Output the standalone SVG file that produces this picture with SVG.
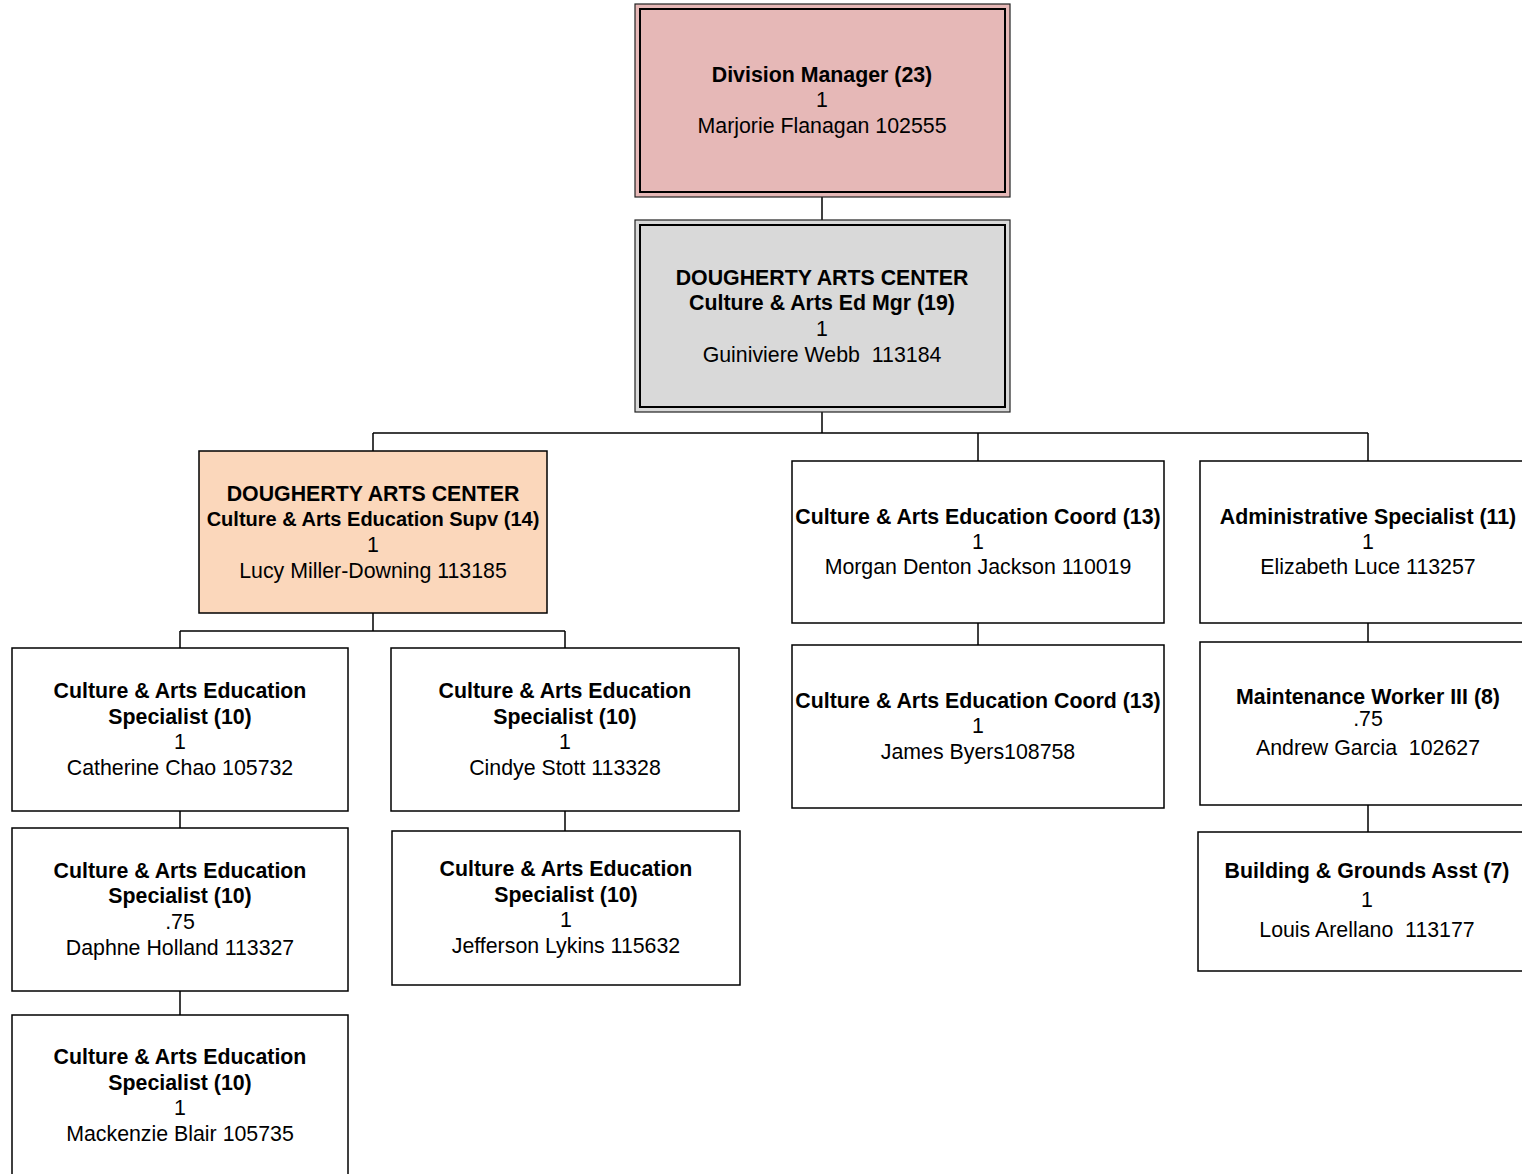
<svg xmlns="http://www.w3.org/2000/svg" width="1522" height="1174" viewBox="0 0 1522 1174">
<style>
text{font-family:"Liberation Sans",Arial,sans-serif;font-size:21.33px;fill:#000;text-anchor:middle;white-space:pre}
.b{font-weight:bold}
.box{fill:#fff;stroke:#000;stroke-width:1.5}
.outer{stroke:#222;stroke-width:1.2}
.inner{fill:none;stroke:#000;stroke-width:2}
.conn{fill:none;stroke:#000;stroke-width:1.5}
</style>
<rect width="1522" height="1174" fill="#fff"/>
<g id="connectors">
<path class="conn" d="M822 197V220"/>
<path class="conn" d="M822 412V433M373 433H1368M373 433V451M978 433V461M1368 433V461"/>
<path class="conn" d="M373 613V631M180 631H565M180 631V648M565 631V648"/>
<path class="conn" d="M180 811V828M180 991V1015"/>
<path class="conn" d="M565 811V831"/>
<path class="conn" d="M978 623V645"/>
<path class="conn" d="M1368 623V642M1368 805V832"/>
</g>
<g id="division-manager">
<rect class="outer" x="635" y="4" width="375" height="193" fill="#e6b8b7"/>
<rect class="inner" x="640" y="9" width="365" height="183"/>
<text class="b" x="822" y="82">Division Manager (23)</text>
<text x="822" y="107">1</text>
<text x="822" y="133">Marjorie Flanagan 102555</text>
</g>
<g id="arts-ed-mgr">
<rect class="outer" x="635" y="220" width="375" height="192" fill="#d9d9d9"/>
<rect class="inner" x="640" y="225" width="365" height="182"/>
<text class="b" x="822" y="285">DOUGHERTY ARTS CENTER</text>
<text class="b" x="822" y="310">Culture &amp; Arts Ed Mgr (19)</text>
<text x="822" y="336">1</text>
<text x="822" y="362" xml:space="preserve">Guiniviere Webb  113184</text>
</g>
<g id="arts-ed-supv">
<rect class="box" x="199" y="451" width="348" height="162" style="fill:#fbd7bb"/>
<text class="b" x="373" y="501">DOUGHERTY ARTS CENTER</text>
<text class="b" x="373" y="526" style="font-size:20px">Culture &amp; Arts Education Supv (14)</text>
<text x="373" y="552">1</text>
<text x="373" y="578">Lucy Miller-Downing 113185</text>
</g>
<g id="spec-chao">
<rect class="box" x="12" y="648" width="336" height="163"/>
<text class="b" x="180" y="698">Culture &amp; Arts Education</text>
<text class="b" x="180" y="724">Specialist (10)</text>
<text x="180" y="749">1</text>
<text x="180" y="775">Catherine Chao 105732</text>
</g>
<g id="spec-holland">
<rect class="box" x="12" y="828" width="336" height="163"/>
<text class="b" x="180" y="878">Culture &amp; Arts Education</text>
<text class="b" x="180" y="903">Specialist (10)</text>
<text x="180" y="929">.75</text>
<text x="180" y="955">Daphne Holland 113327</text>
</g>
<g id="spec-blair">
<rect class="box" x="12" y="1015" width="336" height="170"/>
<text class="b" x="180" y="1064">Culture &amp; Arts Education</text>
<text class="b" x="180" y="1090">Specialist (10)</text>
<text x="180" y="1115">1</text>
<text x="180" y="1141">Mackenzie Blair 105735</text>
</g>
<g id="spec-stott">
<rect class="box" x="391" y="648" width="348" height="163"/>
<text class="b" x="565" y="698">Culture &amp; Arts Education</text>
<text class="b" x="565" y="724">Specialist (10)</text>
<text x="565" y="749">1</text>
<text x="565" y="775">Cindye Stott 113328</text>
</g>
<g id="spec-lykins">
<rect class="box" x="392" y="831" width="348" height="154"/>
<text class="b" x="566" y="876">Culture &amp; Arts Education</text>
<text class="b" x="566" y="902">Specialist (10)</text>
<text x="566" y="927">1</text>
<text x="566" y="953">Jefferson Lykins 115632</text>
</g>
<g id="coord-jackson">
<rect class="box" x="792" y="461" width="372" height="162"/>
<text class="b" x="978" y="524">Culture &amp; Arts Education Coord (13)</text>
<text x="978" y="549">1</text>
<text x="978" y="574">Morgan Denton Jackson 110019</text>
</g>
<g id="coord-byers">
<rect class="box" x="792" y="645" width="372" height="163"/>
<text class="b" x="978" y="708">Culture &amp; Arts Education Coord (13)</text>
<text x="978" y="733">1</text>
<text x="978" y="759">James Byers108758</text>
</g>
<g id="admin-luce">
<rect class="box" x="1200" y="461" width="340" height="162"/>
<text class="b" x="1368" y="524">Administrative Specialist (11)</text>
<text x="1368" y="549">1</text>
<text x="1368" y="574">Elizabeth Luce 113257</text>
</g>
<g id="maint-garcia">
<rect class="box" x="1200" y="642" width="340" height="163"/>
<text class="b" x="1368" y="704">Maintenance Worker III (8)</text>
<text x="1368" y="726">.75</text>
<text x="1368" y="755" xml:space="preserve">Andrew Garcia  102627</text>
</g>
<g id="bldg-arellano">
<rect class="box" x="1198" y="832" width="342" height="139"/>
<text class="b" x="1367" y="878">Building &amp; Grounds Asst (7)</text>
<text x="1367" y="907">1</text>
<text x="1367" y="937" xml:space="preserve">Louis Arellano  113177</text>
</g>
</svg>
